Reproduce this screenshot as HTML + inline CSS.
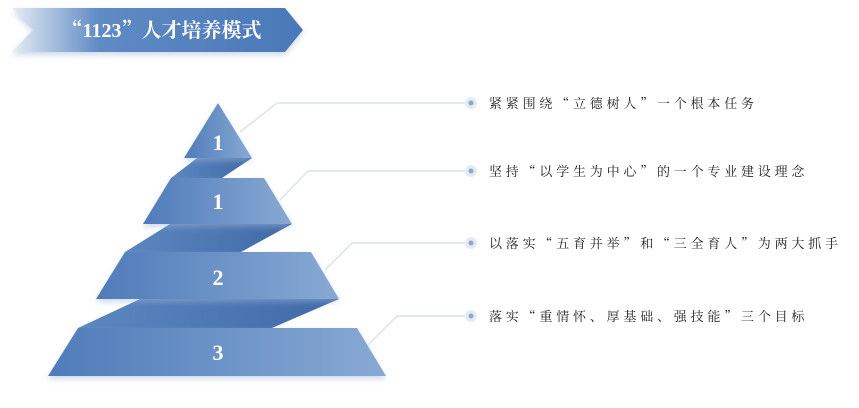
<!DOCTYPE html>
<html><head><meta charset="utf-8"><style>
body{margin:0;width:859px;height:408px;background:#fff;overflow:hidden;position:relative;font-family:"Noto Serif CJK SC",serif}
.t{position:absolute;left:489px;font-size:13px;letter-spacing:3.8px;color:#222;line-height:16px;white-space:nowrap;font-family:"Noto Serif CJK SC",serif}
</style></head><body>
<svg width="859" height="408" style="position:absolute;left:0;top:0">
<defs>
<linearGradient id="b" x1="0" x2="1"><stop offset="0" stop-color="#e6ecf5"/><stop offset="0.3" stop-color="#5f8ac4"/><stop offset="1" stop-color="#4a78b8"/></linearGradient>
<linearGradient id="g" x1="0" x2="1"><stop offset="0" stop-color="#4f7cba"/><stop offset="1" stop-color="#88a9d3"/></linearGradient>
<linearGradient id="d" x1="0" x2="1"><stop offset="0" stop-color="#5d87c0"/><stop offset="1" stop-color="#3f6aa8"/></linearGradient>
<filter id="s" x="-10%" y="-10%" width="120%" height="140%"><feDropShadow dx="0" dy="3" stdDeviation="3" flood-color="#9fb4d4" flood-opacity="0.5"/></filter>
</defs>
<polygon points="12,8 285,8 303,30 285,52 12,52 33,30" fill="url(#b)" filter="url(#s)"/>
<text x="162" y="37" fill="#fff" font-size="20" font-weight="bold" text-anchor="middle" font-family="Noto Serif CJK SC,serif">“<tspan font-family="Liberation Serif">1123</tspan>”人才培养模式</text>
<g stroke="#dbe3ef" stroke-width="1.5" fill="none">
<polyline points="240,132 277,103 471,103"/>
<polyline points="280,200 308,171 471,171"/>
<polyline points="325,270 352,243 471,243"/>
<polyline points="368,345 397,316 471,316"/>
</g>
<g fill="#e6ebf3"><circle cx="471" cy="103" r="6"/><circle cx="471" cy="171" r="6"/><circle cx="471" cy="243" r="6"/><circle cx="471" cy="316" r="6"/></g>
<g fill="#8ea6cf"><circle cx="471" cy="103" r="2.5"/><circle cx="471" cy="171" r="2.5"/><circle cx="471" cy="243" r="2.5"/><circle cx="471" cy="316" r="2.5"/></g>
<polygon points="197,158 252,158 222,178 171,178" fill="url(#d)"/>
<polygon points="170,224 292,224 241,252 125,252" fill="url(#d)"/>
<polygon points="140,299 339,299 272,328 78,328" fill="url(#d)"/>
<g filter="url(#s)">
<polygon points="218,103 252,158 184,158" fill="url(#g)"/>
<polygon points="171,178 264,178 292,224 143,224" fill="url(#g)"/>
<polygon points="125,252 311,252 339,299 96,299" fill="url(#g)"/>
<polygon points="78,328 357,328 386,376 48,376" fill="url(#g)"/>
</g>
<g fill="#fff" font-size="22" font-weight="bold" text-anchor="middle" font-family="Liberation Serif,serif">
<text x="218" y="150">1</text><text x="218" y="209">1</text><text x="218" y="285">2</text><text x="218" y="360">3</text>
</g>
</svg>
<div class="t" style="top:95px">紧紧围绕“立德树人”一个根本任务</div>
<div class="t" style="top:163px">坚持“以学生为中心”的一个专业建设理念</div>
<div class="t" style="top:235px">以落实“五育并举”和“三全育人”为两大抓手</div>
<div class="t" style="top:308px">落实“重情怀、厚基础、强技能”三个目标</div>
</body></html>
